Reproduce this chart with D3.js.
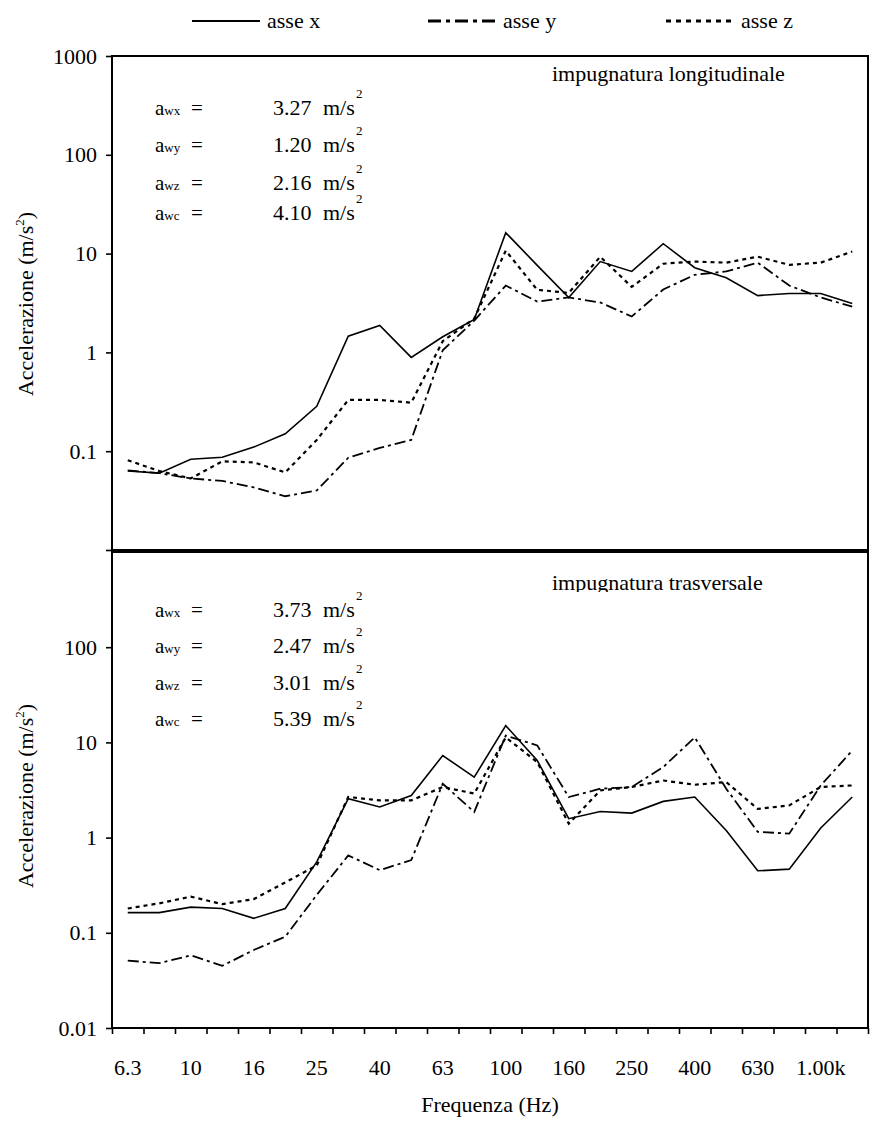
<!DOCTYPE html>
<html>
<head>
<meta charset="utf-8">
<script src="https://cdn.jsdelivr.net/npm/d3@7"></script>
<style>
  body { margin: 0; background: #fff; }
  svg text { font-family: "Liberation Serif", "Times New Roman", serif; fill: #000; }
</style>
</head>
<body>
<div id="chart"></div>
<script>
// Third-octave bands (Hz)
var freqLabels = ["6.3", "8", "10", "12.5", "16", "20", "25", "31.5", "40", "50", "63", "80",
  "100", "125", "160", "200", "250", "315", "400", "500", "630", "800", "1.00k", "1.25k"];

// impugnatura longitudinale
var longX = [0.063, 0.060, 0.083, 0.087, 0.11, 0.15, 0.285, 1.46, 1.87, 0.89, 1.44, 2.15,
  16.3, 7.6, 3.59, 8.3, 6.6, 12.6, 7.2, 5.7, 3.76, 3.95, 3.95, 3.13];
var longY = [0.064, 0.060, 0.053, 0.050, 0.043, 0.035, 0.040, 0.086, 0.108, 0.13, 1.05, 2.1,
  4.75, 3.27, 3.6, 3.2, 2.31, 4.33, 6.1, 6.6, 8.1, 4.75, 3.6, 2.9];
var longZ = [0.081, 0.063, 0.053, 0.079, 0.077, 0.061, 0.13, 0.33, 0.33, 0.31, 1.3, 2.2,
  10.7, 4.3, 4.0, 9.3, 4.6, 7.9, 8.3, 8.1, 9.3, 7.7, 8.1, 10.5];

// impugnatura trasversale
var trasX = [0.163, 0.163, 0.186, 0.18, 0.142, 0.18, 0.556, 2.56, 2.1, 2.77, 7.27, 4.32,
  15, 6.45, 1.58, 1.88, 1.81, 2.4, 2.67, 1.19, 0.448, 0.466, 1.26, 2.67];
var trasY = [0.051, 0.048, 0.058, 0.045, 0.066, 0.091, 0.25, 0.65, 0.455, 0.58, 3.68, 1.86,
  11.8, 9.3, 2.67, 3.26, 3.4, 5.5, 11.3, 3.26, 1.15, 1.1, 3.53, 8.2];
var trasZ = [0.18, 0.204, 0.24, 0.2, 0.226, 0.338, 0.51, 2.67, 2.46, 2.46, 3.4, 2.9,
  11.3, 6.2, 1.4, 3.13, 3.4, 3.98, 3.59, 3.83, 2.0, 2.18, 3.4, 3.53];

// weighted accelerations
var accSubs = ["wx", "wy", "wz", "wc"];
var longAcc = ["3.27", "1.20", "2.16", "4.10"];
var trasAcc = ["3.73", "2.47", "3.01", "5.39"];

var longTicks = [1000, 100, 10, 1, 0.1, 0.01];
var trasTicks = [100, 10, 1, 0.1, 0.01];

var seriesNames = ["asse x", "asse y", "asse z"];

// Section 1: Setup
var width = 871;
var height = 1124;
var left = 112;
var right = 868;

var styles = [
  { dash: null, w: 1.6 },
  { dash: "11,4,3,4", w: 1.8 },
  { dash: "4,4", w: 2.2 }
];

var svg = d3
  .select("#chart")
  .append("svg")
  .attr("width", width)
  .attr("height", height);

var x = d3.scaleBand().domain(freqLabels).range([left, right]);

function xc(i) {
  return x(freqLabels[i]) + x.bandwidth() / 2;
}

// Section 2: one panel
function drawPanel(top, bottom, ticks, hideLabel, series, title, titleY, acc, rows, titleCenter, clipTitle) {
  var y = d3.scaleLog().domain([0.01, 1000]).range([bottom, top]);

  // box
  svg.append("rect")
    .attr("x", left)
    .attr("y", top)
    .attr("width", right - left)
    .attr("height", bottom - top)
    .attr("fill", "none")
    .attr("stroke", "#000")
    .attr("stroke-width", 2);

  var yAxis = svg.append("g")
    .attr("transform", "translate(" + left + ",0)")
    .call(d3.axisLeft(y)
      .tickValues(ticks)
      .tickSize(6)
      .tickPadding(9)
      .tickFormat(function(d) { return d === hideLabel ? "" : String(d); }));
  yAxis.select(".domain").remove();
  yAxis.selectAll("line").attr("stroke-width", 1.6);
  yAxis.selectAll("text").attr("font-size", 22).style("font-family", "Liberation Serif");

  var line = d3.line()
    .x(function(d, i) { return xc(i); })
    .y(function(d) { return y(d); });

  series.forEach(function(s, k) {
    svg.append("path")
      .datum(s)
      .attr("d", line)
      .attr("fill", "none")
      .attr("stroke", "#000")
      .attr("stroke-width", styles[k].w)
      .attr("stroke-dasharray", styles[k].dash)
      .attr("stroke-linejoin", "miter");
  });

  // panel title
  var t = svg.append("text")
    .attr("x", 552)
    .attr("y", titleY)
    .attr("font-size", 22)
    .text(title);
  if (clipTitle) {
    svg.append("clipPath").attr("id", "cut")
      .append("rect").attr("x", 0).attr("y", 0).attr("width", width).attr("height", titleY + 2);
    t.attr("clip-path", "url(#cut)");
  }

  // accelerations
  acc.forEach(function(v, i) {
    var by = rows[i];
    var a = svg.append("text").attr("x", 155).attr("y", by).attr("font-size", 21).text("a");
    a.append("tspan").attr("font-size", 13).text(accSubs[i]);
    svg.append("text").attr("x", 191).attr("y", by).attr("font-size", 21).text("=");
    svg.append("text").attr("x", 273).attr("y", by).attr("font-size", 22).text(v);
    svg.append("text").attr("x", 323).attr("y", by).attr("font-size", 22).text("m/s");
    svg.append("text").attr("x", 356).attr("y", by - 17).attr("font-size", 13).text("2");
  });

  // y axis title
  var yt = svg.append("text")
    .attr("transform", "translate(33," + titleCenter + ")rotate(-90)")
    .attr("text-anchor", "middle")
    .attr("font-size", 22)
    .text("Accelerazione (m/s");
  yt.append("tspan").attr("font-size", 13).attr("dy", -9).text("2");
  yt.append("tspan").attr("dy", 9).text(")");

  return y;
}

drawPanel(56, 550, longTicks, 0.01, [longX, longY, longZ],
  "impugnatura longitudinale", 81, longAcc, [115, 152, 190, 220], 304, false);

drawPanel(552, 1028, trasTicks, null, [trasX, trasY, trasZ],
  "impugnatura trasversale", 590, trasAcc, [617, 653, 690, 726], 796, true);

// Section 3: bottom x axis
var xEdges = d3.scaleLinear().domain([0, freqLabels.length]).range([left, right]);
svg.append("g")
  .attr("transform", "translate(0,1028)")
  .call(d3.axisBottom(xEdges).ticks(freqLabels.length).tickSize(6).tickFormat(""))
  .call(function(g) {
    g.select(".domain").remove();
    g.selectAll("line").attr("stroke-width", 1.6);
  });

svg.append("g")
  .attr("transform", "translate(0,1028)")
  .call(d3.axisBottom(x).tickSize(0).tickPadding(31)
    .tickFormat(function(d, i) { return i % 2 === 0 ? d : ""; }))
  .call(function(g) {
    g.select(".domain").remove();
    g.selectAll("text").attr("font-size", 22).style("font-family", "Liberation Serif");
  });

svg.append("text")
  .attr("x", (left + right) / 2)
  .attr("y", 1112)
  .attr("text-anchor", "middle")
  .attr("font-size", 22)
  .text("Frequenza (Hz)");

// Section 4: legend
var legendX = [192, 428, 666];
seriesNames.forEach(function(name, k) {
  svg.append("line")
    .attr("x1", legendX[k])
    .attr("x2", legendX[k] + 68)
    .attr("y1", 21)
    .attr("y2", 21)
    .attr("stroke", "#000")
    .attr("stroke-width", k === 0 ? 2 : 3)
    .attr("stroke-dasharray", k === 1 ? "13,5,4,5" : (k === 2 ? "5,5" : null));
  svg.append("text")
    .attr("x", legendX[k] + 75)
    .attr("y", 28)
    .attr("font-size", 22)
    .text(name);
});
</script>
</body>
</html>
